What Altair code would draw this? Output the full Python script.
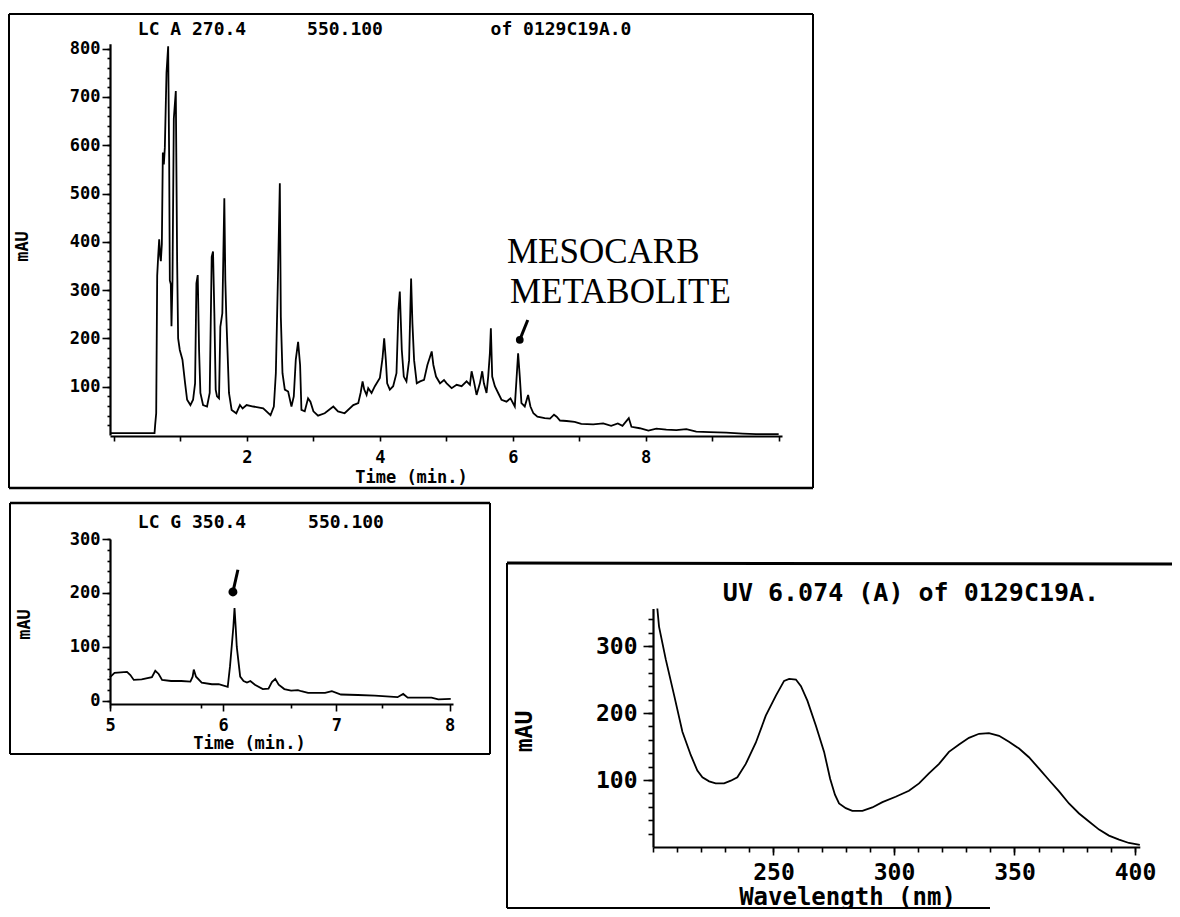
import altair as alt
import pandas as pd

# ---------------- data ----------------
# LC A 270.4 chromatogram: time (min) / absorbance (mAU)
lc_a_time = [-0.05, 0.61, 0.62, 0.635, 0.65, 0.665, 0.68, 0.695, 0.705, 0.72, 0.735, 0.75, 0.765,
             0.79, 0.815, 0.83, 0.84, 0.855, 0.865, 0.88, 0.90, 0.93, 0.95, 0.965, 0.99, 1.03, 1.07,
             1.10, 1.15, 1.19, 1.22, 1.24, 1.26, 1.28, 1.30, 1.34, 1.40, 1.44, 1.47, 1.49, 1.51, 1.53,
             1.55, 1.58, 1.60, 1.63, 1.66, 1.675, 1.69, 1.73, 1.77, 1.84, 1.895, 1.935, 1.995, 2.095,
             2.245, 2.355, 2.405, 2.435, 2.47, 2.495, 2.51, 2.535, 2.57, 2.62, 2.67, 2.705, 2.735,
             2.77, 2.80, 2.82, 2.87, 2.92, 2.955, 3.00, 3.07, 3.17, 3.30, 3.37, 3.47, 3.60, 3.675,
             3.71, 3.74, 3.765, 3.80, 3.825, 3.875, 3.925, 4.00, 4.04, 4.065, 4.09, 4.11, 4.15, 4.20,
             4.25, 4.28, 4.30, 4.33, 4.36, 4.40, 4.44, 4.47, 4.49, 4.515, 4.555, 4.605, 4.665, 4.715,
             4.755, 4.78, 4.805, 4.845, 4.905, 4.965, 5.005, 5.08, 5.155, 5.23, 5.305, 5.355, 5.38,
             5.415, 5.455, 5.505, 5.54, 5.565, 5.605, 5.63, 5.655, 5.67, 5.69, 5.73, 5.78, 5.83,
             5.905, 5.965, 6.03, 6.055, 6.08, 6.105, 6.13, 6.18, 6.23, 6.265, 6.31, 6.37, 6.48, 6.56,
             6.62, 6.66, 6.71, 6.81, 6.93, 7.03, 7.21, 7.36, 7.48, 7.58, 7.65, 7.745, 7.785, 7.91,
             8.04, 8.16, 8.31, 8.46, 8.61, 8.76, 8.96, 9.21, 9.46, 9.66, 10.0]
lc_a_mau = [4, 4, 22, 45, 330, 370, 405, 370, 360, 395, 585, 560, 595,
            750, 805, 575, 320, 312, 225, 320, 655, 712, 360, 200, 176, 156, 107,
            73, 62, 73, 107, 314, 331, 176, 87, 62, 59, 87, 369, 380, 252, 94,
            80, 76, 224, 252, 490, 321, 245, 87, 52, 45, 62, 55, 62, 59,
            55, 41, 59, 128, 348, 521, 245, 128, 94, 90, 59, 80, 156,
            193, 145, 52, 49, 76, 69, 49, 40, 45, 59, 49, 45, 62, 66,
            87, 111, 94, 83, 97, 87, 101, 118, 159, 200, 155, 107, 94, 101,
            128, 259, 297, 176, 121, 111, 155, 324, 231, 155, 107, 111, 114, 145,
            162, 173, 145, 121, 107, 114, 107, 97, 104, 101, 111, 104, 132,
            111, 83, 107, 132, 107, 87, 121, 169, 221, 121, 101, 87, 73,
            69, 76, 59, 114, 169, 121, 66, 59, 83, 59, 45, 38, 35, 34,
            42, 38, 30, 29, 27, 23, 22, 24, 19, 24, 19, 35, 17, 14,
            9, 13, 11, 10, 12, 7, 6, 5, 3, 2, 2]

# LC G 350.4 chromatogram
lc_g_time = [5.00, 5.01, 5.04, 5.15, 5.18, 5.21, 5.28, 5.37, 5.40, 5.43, 5.46, 5.54, 5.63, 5.71,
             5.73, 5.74, 5.76, 5.81, 5.90, 5.96, 6.04, 6.06, 6.08, 6.09, 6.10, 6.11, 6.12, 6.15,
             6.18, 6.21, 6.24, 6.28, 6.35, 6.40, 6.43, 6.46, 6.49, 6.54, 6.60, 6.66, 6.69, 6.75,
             6.90, 6.96, 7.04, 7.19, 7.34, 7.54, 7.59, 7.63, 7.84, 7.90, 8.01]
lc_g_mau = [44, 46, 52, 54, 48, 39, 40, 44, 56, 50, 39, 37, 37, 36,
            45, 58, 45, 34, 31, 31, 26, 64, 113, 138, 172, 138, 100, 45,
            37, 34, 37, 30, 22, 23, 35, 41, 30, 22, 19, 20, 18, 15,
            15, 18, 12, 11, 10, 7, 13, 6, 6, 3, 4]

# UV spectrum at 6.074 min: wavelength (nm) / absorbance (mAU)
uv_nm = [201.8, 202.5, 205.3, 208.8, 212.2, 215.7, 218.4, 220.5, 223.3, 226, 229.5, 232.3, 235,
         238.5, 242.7, 246.8, 251, 254.4, 256.5, 259.3, 261.4, 264.1, 267.6, 271, 273.5, 275.5,
         277.2, 280, 282.7, 286.9, 291, 295.2, 300.7, 306.2, 310.4, 314.5, 318.7, 322.8, 327,
         331.1, 335.3, 339.4, 343.6, 347.7, 351.9, 356, 360.2, 364.3, 368.5, 372.6, 376.8, 380.9,
         385.1, 389.2, 393.4, 397.5, 402]
uv_mau = [356, 329, 280, 226, 172, 137, 114, 104, 98, 95, 95, 99, 104,
          124, 156, 196, 226, 248, 251, 250, 240, 218, 181, 142, 102, 78,
          65, 58, 54, 54, 59, 67, 75, 84, 95, 110, 124, 142, 153,
          163, 169, 170, 166, 157, 147, 134, 117, 100, 83, 65, 50, 38,
          26, 17, 11, 6, 3]

# peak markers (hand-drawn arrows)
a_arrow_time = [6.105, 6.225]
a_arrow_mau = [197, 238]
g_arrow_time = [6.086, 6.13]
g_arrow_mau = [202, 243]

# ticks and labels
a_x_ticks = [0, 0.5, 1, 1.5, 2, 2.5, 3, 3.5, 4, 4.5, 5, 5.5, 6, 6.5, 7, 7.5, 8, 8.5, 9, 9.5, 10]
a_x_labels = [2, 4, 6, 8]
a_y_labels = [100, 200, 300, 400, 500, 600, 700, 800]
a_y_minor = list(range(20, 801, 20))
g_x_labels = [5, 6, 7, 8]
g_x_minor = [round(5 + 0.1 * i, 1) for i in range(31)]
g_y_labels = [0, 100, 200, 300]
g_y_minor = list(range(0, 301, 20))
uv_x_labels = [250, 300, 350, 400]
uv_x_minor = list(range(200, 401, 10))
uv_y_labels = [100, 200, 300]
uv_y_minor = list(range(20, 341, 20))

# ---------------- layout ----------------
W, H = 1164, 901
MONO = "DejaVu Sans Mono"
SERIF = "Liberation Serif"
one = alt.Data(values=[{"k": 0}])


def ax(orient, offset, values, tick, labels=False, size=17, pad=2, domain=False,
       label_expr=None, title=None, tx=0, ty=0, tsize=17, tangle=0):
    kw = dict(orient=orient, offset=offset, values=values, tickSize=tick, labels=labels,
              domain=domain, grid=False, ticks=True, tickColor="black", tickWidth=1.6,
              domainColor="black", domainWidth=2.2, labelFont=MONO, labelFontWeight="bold",
              labelFontSize=size, labelColor="black", labelPadding=pad, labelFlush=False,
              labelOverlap=False, labelBound=False, format="d")
    if label_expr:
        kw["labelExpr"] = label_expr
    if title:
        kw.update(title=title, titleX=tx, titleY=ty, titleFont=MONO, titleFontWeight="bold",
                  titleFontSize=tsize, titleColor="black", titleAlign="center",
                  titleBaseline="middle", titleAngle=tangle)
    else:
        kw["title"] = None
    return alt.Axis(**kw)


def text(s, x, y, size=18, font=MONO, weight="bold", align="center"):
    return alt.Chart(one).mark_text(text=s, font=font, fontSize=size, fontWeight=weight,
                                    align=align, baseline="middle", color="black").encode(
        x=alt.value(x), y=alt.value(y))


def rule(x1, y1, x2, y2, w=2):
    return alt.Chart(one).mark_rule(color="black", strokeWidth=w).encode(
        x=alt.value(x1), y=alt.value(y1), x2=alt.value(x2), y2=alt.value(y2))


# ---- panel 1 : LC A 270.4 ----
xa = alt.Scale(domain=[-0.06, 10.05], range=[102, 774], nice=False, zero=False)
ya = alt.Scale(domain=[0, 810], range=[427, 35.8], nice=False, zero=False)
df_a = pd.DataFrame({"time": lc_a_time, "mau": lc_a_mau})
df_a_arrow = pd.DataFrame({"time": a_arrow_time, "mau": a_arrow_mau})
df_a_dot = pd.DataFrame({"time": a_arrow_time[:1], "mau": a_arrow_mau[:1]})

trace_a = alt.Chart(df_a).mark_line(color="black", strokeWidth=1.8).encode(
    x=alt.X("time:Q", scale=xa,
            axis=ax("bottom", 428 - H, a_x_ticks, 5, labels=True, pad=8, domain=True,
                    label_expr="indexof(%s, datum.value) >= 0 ? datum.label : ''" % a_x_labels,
                    title="Time (min.)", tx=403, ty=41)),
    y=alt.Y("mau:Q", scale=ya,
            axis=ax("left", -102, a_y_labels, 8, labels=True, pad=2, domain=True,
                    title="mAU", tx=-88, ty=238, tangle=270)),
)
arrow_a = alt.Chart(df_a_arrow).mark_line(color="black", strokeWidth=3).encode(
    x=alt.X("time:Q", scale=xa, axis=None),
    y=alt.Y("mau:Q", scale=ya, axis=ax("left", -102, a_y_minor, 3)),
)
dot_a = alt.Chart(df_a_dot).mark_point(filled=True, color="black", size=60, opacity=1).encode(
    x=alt.X("time:Q", scale=xa, axis=None),
    y=alt.Y("mau:Q", scale=ya, axis=None),
)

# ---- panel 2 : LC G 350.4 ----
xg = alt.Scale(domain=[5, 8.03], range=[102, 445], nice=False, zero=False)
yg = alt.Scale(domain=[-6, 300], range=[696.2, 531], nice=False, zero=False)
df_g = pd.DataFrame({"time": lc_g_time, "mau": lc_g_mau})
df_g_arrow = pd.DataFrame({"time": g_arrow_time, "mau": g_arrow_mau})
df_g_dot = pd.DataFrame({"time": g_arrow_time[:1], "mau": g_arrow_mau[:1]})

trace_g = alt.Chart(df_g).mark_line(color="black", strokeWidth=1.8).encode(
    x=alt.X("time:Q", scale=xg,
            axis=ax("bottom", 696 - H, g_x_labels, 7, labels=True, pad=6, domain=True,
                    title="Time (min.)", tx=241, ty=39)),
    y=alt.Y("mau:Q", scale=yg,
            axis=ax("left", -102, g_y_labels, 8, labels=True, pad=2, domain=True,
                    title="mAU", tx=-86, ty=616, tangle=270)),
)
arrow_g = alt.Chart(df_g_arrow).mark_line(color="black", strokeWidth=3).encode(
    x=alt.X("time:Q", scale=xg, axis=ax("bottom", 696 - H, g_x_minor, 4)),
    y=alt.Y("mau:Q", scale=yg, axis=ax("left", -102, g_y_minor, 3)),
)
dot_g = alt.Chart(df_g_dot).mark_point(filled=True, color="black", size=80, opacity=1).encode(
    x=alt.X("time:Q", scale=xg, axis=None),
    y=alt.Y("mau:Q", scale=yg, axis=None),
)

# ---- panel 3 : UV spectrum ----
xu = alt.Scale(domain=[200, 402], range=[645, 1131.8], nice=False, zero=False)
yu = alt.Scale(domain=[0, 356], range=[839, 600.5], nice=False, zero=False)
df_u = pd.DataFrame({"nm": uv_nm, "mau": uv_mau})

trace_u = alt.Chart(df_u).mark_line(color="black", strokeWidth=1.8).encode(
    x=alt.X("nm:Q", scale=xu,
            axis=ax("bottom", 839 - H, uv_x_labels, 8, labels=True, size=23, pad=6, domain=True,
                    title="Wavelength (nm)", tx=839, ty=50, tsize=24)),
    y=alt.Y("mau:Q", scale=yu,
            axis=ax("left", -645, uv_y_labels, 10, labels=True, size=23, pad=6, domain=True,
                    title="mAU", tx=-129, ty=723, tsize=23, tangle=270)),
)
minor_u = alt.Chart(df_u).mark_line(opacity=0).encode(
    x=alt.X("nm:Q", scale=xu, axis=ax("bottom", 839 - H, uv_x_minor, 5)),
    y=alt.Y("mau:Q", scale=yu, axis=ax("left", -645, uv_y_minor, 5)),
)

# ---- frames and texts ----
frames = [
    rule(1, 6, 805, 6), rule(1, 6, 1, 480), rule(805, 6, 805, 480), rule(1, 480, 805, 480, 2.5),
    rule(2, 495, 482, 495, 2.5), rule(2, 495, 2, 746), rule(482, 495, 482, 746), rule(2, 746, 482, 746),
    rule(499, 555, 1164, 556, 3), rule(499, 555, 499, 900), rule(499, 900, 982, 900),
]
texts = [
    text("LC A 270.4", 184, 22), text("550.100", 337, 22), text("of 0129C19A.0", 553, 22),
    text("LC G 350.4", 184, 515), text("550.100", 338, 515),
    text("UV 6.074 (A) of 0129C19A.", 903, 585, size=25),
    text("MESOCARB", 499, 244, size=35, font=SERIF, weight="normal", align="left"),
    text("METABOLITE", 502, 284, size=35, font=SERIF, weight="normal", align="left"),
]

chart = alt.layer(
    *frames, trace_a, arrow_a, dot_a, trace_g, arrow_g, dot_g, trace_u, minor_u, *texts
).resolve_scale(x="independent", y="independent").resolve_axis(
    x="independent", y="independent"
).properties(
    width=W, height=H, autosize=alt.AutoSizeParams(type="none"), padding=0,
    background="white"
).configure_view(strokeOpacity=0)

chart.save("out.html", embed_options={"renderer": "svg", "actions": False})
